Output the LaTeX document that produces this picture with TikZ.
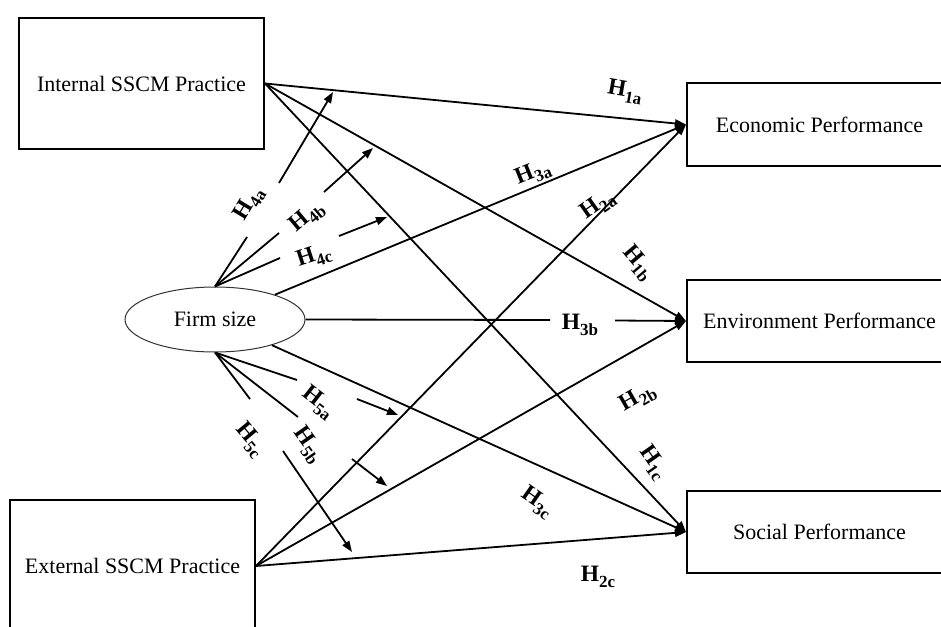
\documentclass[tikz,border=0pt]{standalone}
\usepackage{fontspec}
\setmainfont{Liberation Serif}
\usetikzlibrary{arrows.meta,shapes.geometric}
\newcommand{\hyp}[1]{\textbf{H}\raisebox{-5.5pt}{\fontsize{17}{17}\selectfont\textbf{#1}}}
\tikzset{
  box/.style={draw, line width=2pt, rectangle, inner sep=0pt, font=\fontsize{22}{26}\selectfont},
  conn/.style={line width=1.8pt},
  arr/.style={conn, -{Triangle[length=11pt,width=8pt]}},
  lab/.style={font=\fontsize{23.5}{25}\selectfont, inner sep=1pt},
}
\begin{document}
\begin{tikzpicture}[x=1pt,y=-1pt]
\useasboundingbox (0,0) rectangle (941,626);
\clip (0,0) rectangle (941,626);
\fill[white] (0,0) rectangle (941,626);
% nodes
\node[box, minimum width=245pt, minimum height=131pt] (int) at (141.5,83.5) {Internal SSCM Practice};
\node[box, minimum width=245pt, minimum height=132pt] (ext) at (132.5,566) {External SSCM Practice};
\node[box, minimum width=265pt, minimum height=83pt] (eco) at (819.5,124.5) {Economic Performance};
\node[box, minimum width=265pt, minimum height=82pt] (env) at (819.5,321) {Environment Performance};
\node[box, minimum width=265pt, minimum height=82pt] (soc) at (819.5,532) {Social Performance};
\node[draw=black!80, line width=1pt, ellipse, minimum width=180pt, minimum height=65pt, inner sep=0pt,
      font=\fontsize{22}{26}\selectfont] (firm) at (215,319.5) {Firm size};
% direct paths
\draw[arr] (int.east) -- (eco.west);
\draw[arr] (int.east) -- (env.west);
\draw[arr] (int.east) -- (soc.west);
\draw[arr] (ext.east) -- (eco.west);
\draw[arr] (ext.east) -- (env.west);
\draw[arr] (ext.east) -- (soc.west);
\draw[arr] (firm) -- (eco.west);
\draw[arr] (firm) -- (soc.west);
\coordinate (g3b1) at (550,320);
\coordinate (g3b2) at (615,320.5);
\draw[conn] (firm.east) -- (g3b1);
\draw[arr] (g3b2) -- (env.west);
% moderation arrows
\coordinate (a1) at (247,237); \coordinate (a2) at (279,183); \coordinate (a3) at (333,92);
\coordinate (b1) at (279,233); \coordinate (b2) at (324,192); \coordinate (b3) at (373,148);
\coordinate (c1) at (280,258); \coordinate (c2) at (339,236); \coordinate (c3) at (387,217);
\coordinate (d1) at (297,380); \coordinate (d2) at (357,399); \coordinate (d3) at (398,415);
\coordinate (e1) at (298,417); \coordinate (e2) at (352,459); \coordinate (e3) at (387,486);
\coordinate (f1) at (250,399); \coordinate (f2) at (283,451); \coordinate (f3) at (352,552);
\draw[conn] (firm.north) -- (a1); \draw[arr] (a2) -- (a3);
\draw[conn] (firm.north) -- (b1); \draw[arr] (b2) -- (b3);
\draw[conn] (firm.north) -- (c1); \draw[arr] (c2) -- (c3);
\draw[conn] (firm.south) -- (d1); \draw[arr] (d2) -- (d3);
\draw[conn] (firm.south) -- (e1); \draw[arr] (e2) -- (e3);
\draw[conn] (firm.south) -- (f1); \draw[arr] (f2) -- (f3);
% labels
\node[lab, rotate=59] (l4a) at (249,204) {\hyp{4a}};
\node[lab, rotate=40] (l4b) at (307,217) {\hyp{4b}};
\node[lab, rotate=18] (l4c) at (314,257) {\hyp{4c}};
\node[lab, rotate=-10] (l1a) at (625,92) {\hyp{1a}};
\node[lab, rotate=22] (l3a) at (533,173) {\hyp{3a}};
\node[lab, rotate=35] (l2a) at (598,205) {\hyp{2a}};
\node[lab, rotate=-50] (l1b) at (638,263) {\hyp{1b}};
\node[lab] (l3b) at (580,325) {\hyp{3b}};
\node[lab, rotate=30] (l2b) at (638,398) {\hyp{2b}};
\node[lab, rotate=-55] (l1c) at (653,463) {\hyp{1c}};
\node[lab, rotate=-35] (l3c) at (537,502) {\hyp{3c}};
\node[lab] (l2c) at (598,577) {\hyp{2c}};
\node[lab, rotate=-38] (l5a) at (318,403) {\hyp{5a}};
\node[lab, rotate=-55] (l5b) at (308,445) {\hyp{5b}};
\node[lab, rotate=-50] (l5c) at (250,440) {\hyp{5c}};
\end{tikzpicture}
\end{document}
